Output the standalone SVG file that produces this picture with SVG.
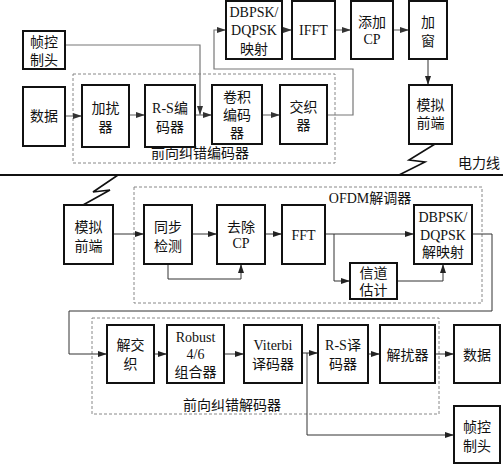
<svg xmlns="http://www.w3.org/2000/svg" width="503" height="464" viewBox="0 0 503 464">
<defs>
<marker id="ah" markerWidth="9" markerHeight="6" refX="9" refY="3" orient="auto" markerUnits="userSpaceOnUse"><path d="M0,0 L9,3 L0,6 z" fill="#222"/></marker>
<marker id="ahg" markerWidth="9" markerHeight="6" refX="9" refY="3" orient="auto" markerUnits="userSpaceOnUse"><path d="M0,0 L9,3 L0,6 z" fill="#333"/></marker>
</defs>
<style>
.box{fill:#fff;stroke:#111;stroke-width:2}
.dash{fill:none;stroke:#888;stroke-width:1;stroke-dasharray:3,2}
.t{font-family:"Liberation Serif","Noto Sans CJK SC",serif;font-size:14px;fill:#111;text-anchor:middle}
.c{fill:none;stroke:#777;stroke-width:1.2}
.c2{fill:none;stroke:#333;stroke-width:1}
.pl{fill:none;stroke:#111;stroke-width:2}
.zz{fill:none;stroke:#111;stroke-width:1.6}
</style>
<rect width="503" height="464" fill="#fff"/>
<g id="fec-encoder-frame"><rect class="dash" x="73" y="74" width="262" height="89"/><text class="t" x="200" y="158">前向纠错编码器</text></g>
<g id="ofdm-frame"><rect class="dash" x="134" y="187" width="348" height="116"/><text class="t" x="370" y="203">OFDM解调器</text></g>
<g id="fec-decoder-frame"><rect class="dash" x="92" y="318" width="347" height="96"/><text class="t" x="232" y="410">前向纠错解码器</text></g>
<g id="powerline"><line class="pl" x1="0" y1="175" x2="503" y2="175"/><text class="t" x="479" y="168">电力线</text>
<polyline class="zz" points="435,144 409,160 425,162 399,175"/>
<polyline class="zz" points="118,175 93,192 110,190 83,205"/></g>
<g id="connectors">
<polyline class="c" points="65,45 200,45 200,115" marker-end="url(#ahg)"/>
<line class="c" x1="65" y1="116" x2="82" y2="116" marker-end="url(#ahg)"/>
<line class="c" x1="129" y1="115" x2="145" y2="115" marker-end="url(#ahg)"/>
<line class="c" x1="195" y1="115" x2="212" y2="115" marker-end="url(#ahg)"/>
<line class="c" x1="262" y1="115" x2="280" y2="115" marker-end="url(#ahg)"/>
<polyline class="c" points="327,115 353,115 353,69 214,69 214,30 226,30" marker-end="url(#ahg)"/>
<line class="c" x1="282" y1="30" x2="292" y2="30" marker-end="url(#ahg)"/>
<line class="c" x1="335" y1="30" x2="351" y2="30" marker-end="url(#ahg)"/>
<line class="c" x1="393" y1="30" x2="409" y2="30" marker-end="url(#ahg)"/>
<line class="c2" x1="428" y1="59" x2="428" y2="85" marker-end="url(#ah)"/>
<line class="c2" x1="113" y1="234" x2="144" y2="234" marker-end="url(#ah)"/>
<line class="c2" x1="192" y1="234" x2="217" y2="234" marker-end="url(#ah)"/>
<line class="c2" x1="265" y1="234" x2="282" y2="234" marker-end="url(#ah)"/>
<line class="c2" x1="325" y1="234" x2="414" y2="234" marker-end="url(#ah)"/>
<polyline class="c2" points="168,264 168,279 241,279 241,264" marker-end="url(#ah)"/>
<polyline class="c2" points="334,234 334,281 350,281" marker-end="url(#ah)"/>
<polyline class="c2" points="397,281 443,281 443,264" marker-end="url(#ah)"/>
<polyline class="c2" points="472,234 492,234 492,311 69,311 69,354 107,354" marker-end="url(#ah)"/>
<line class="c2" x1="154" y1="354" x2="167" y2="354" marker-end="url(#ah)"/>
<line class="c2" x1="224" y1="354" x2="244" y2="354" marker-end="url(#ah)"/>
<line class="c2" x1="302" y1="353" x2="318" y2="353" marker-end="url(#ah)"/>
<line class="c2" x1="368" y1="354" x2="380" y2="354" marker-end="url(#ah)"/>
<line class="c2" x1="435" y1="354" x2="454" y2="354" marker-end="url(#ah)"/>
<polyline class="c2" points="307,353 307,435 454,435" marker-end="url(#ah)"/>
</g>
<g id="tx-frame-header"><rect class="box" x="23" y="31" width="42" height="38"/><text class="t" x="44" y="47">帧控</text><text class="t" x="44" y="65">制头</text></g>
<g id="tx-data"><rect class="box" x="23" y="87" width="42" height="59"/><text class="t" x="44" y="121">数据</text></g>
<g id="scrambler"><rect class="box" x="82" y="85" width="47" height="62"/><text class="t" x="105.5" y="113">加扰</text><text class="t" x="105.5" y="132">器</text></g>
<g id="rs-encoder"><rect class="box" x="145" y="85" width="50" height="62"/><text class="t" x="170" y="113">R-S编</text><text class="t" x="170" y="132">码器</text></g>
<g id="conv-encoder"><rect class="box" x="212" y="85" width="50" height="59"/><text class="t" x="237" y="102">卷积</text><text class="t" x="237" y="120">编码</text><text class="t" x="237" y="138">器</text></g>
<g id="interleaver"><rect class="box" x="280" y="85" width="47" height="59"/><text class="t" x="303.5" y="112">交织</text><text class="t" x="303.5" y="130">器</text></g>
<g id="mapper"><rect class="box" x="226" y="1" width="56" height="58"/><text class="t" x="254" y="17">DBPSK/</text><text class="t" x="254" y="35">DQPSK</text><text class="t" x="254" y="54">映射</text></g>
<g id="ifft"><rect class="box" x="292" y="1" width="43" height="58"/><text class="t" x="313.5" y="35">IFFT</text></g>
<g id="add-cp"><rect class="box" x="351" y="1" width="42" height="58"/><text class="t" x="372" y="27">添加</text><text class="t" x="372" y="44">CP</text></g>
<g id="window"><rect class="box" x="409" y="1" width="38" height="58"/><text class="t" x="428" y="27">加</text><text class="t" x="428" y="46">窗</text></g>
<g id="tx-afe"><rect class="box" x="409" y="85" width="43" height="59"/><text class="t" x="430.5" y="110">模拟</text><text class="t" x="430.5" y="128">前端</text></g>
<g id="rx-afe"><rect class="box" x="64" y="205" width="49" height="59"/><text class="t" x="88.5" y="232">模拟</text><text class="t" x="88.5" y="251">前端</text></g>
<g id="sync"><rect class="box" x="144" y="205" width="48" height="59"/><text class="t" x="168" y="232">同步</text><text class="t" x="168" y="251">检测</text></g>
<g id="remove-cp"><rect class="box" x="217" y="205" width="48" height="59"/><text class="t" x="241" y="232">去除</text><text class="t" x="241" y="248">CP</text></g>
<g id="fft"><rect class="box" x="282" y="205" width="43" height="59"/><text class="t" x="303.5" y="240">FFT</text></g>
<g id="demapper"><rect class="box" x="414" y="205" width="58" height="59"/><text class="t" x="443" y="222">DBPSK/</text><text class="t" x="443" y="240">DQPSK</text><text class="t" x="443" y="257">解映射</text></g>
<g id="channel-est"><rect class="box" x="350" y="263" width="47" height="36"/><text class="t" x="373.5" y="278">信道</text><text class="t" x="373.5" y="295">估计</text></g>
<g id="deinterleaver"><rect class="box" x="107" y="325" width="47" height="58"/><text class="t" x="130.5" y="350">解交</text><text class="t" x="130.5" y="369">织</text></g>
<g id="robust-combiner"><rect class="box" x="167" y="325" width="57" height="58"/><text class="t" x="195.5" y="342">Robust</text><text class="t" x="195.5" y="359">4/6</text><text class="t" x="195.5" y="377">组合器</text></g>
<g id="viterbi"><rect class="box" x="244" y="325" width="58" height="58"/><text class="t" x="273" y="350">Viterbi</text><text class="t" x="273" y="369">译码器</text></g>
<g id="rs-decoder"><rect class="box" x="318" y="325" width="50" height="58"/><text class="t" x="343" y="350">R-S译</text><text class="t" x="343" y="369">码器</text></g>
<g id="descrambler"><rect class="box" x="380" y="325" width="55" height="58"/><text class="t" x="407.5" y="360">解扰器</text></g>
<g id="rx-data"><rect class="box" x="454" y="325" width="46" height="58"/><text class="t" x="477" y="360">数据</text></g>
<g id="rx-frame-header"><rect class="box" x="454" y="406" width="46" height="57"/><text class="t" x="477" y="432">帧控</text><text class="t" x="477" y="451">制头</text></g>
</svg>
